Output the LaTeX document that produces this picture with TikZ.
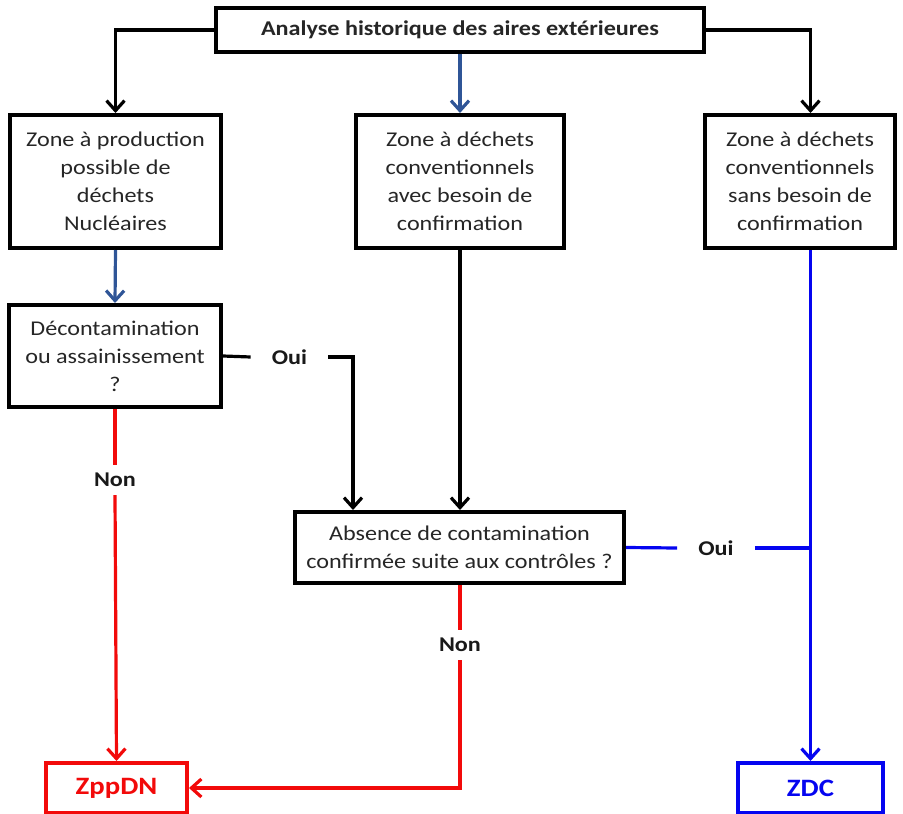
\documentclass[tikz,border=0pt]{standalone}
\usepackage{fontspec}
\setmainfont{Carlito}[FakeStretch=1.15]
\usepackage{tikz}
\usetikzlibrary{arrows.meta}

\definecolor{steel}{HTML}{2F5597}
\definecolor{vivblue}{HTML}{0505F0}
\definecolor{vivred}{HTML}{F20A0A}

\begin{document}
\begin{tikzpicture}[
    x=1pt, y=-1pt,
    font=\fontsize{21}{28}\selectfont,
    box/.style={rectangle, draw=black, line width=4pt, fill=white, align=center, inner sep=0pt, text=black!85},
    endbox/.style={rectangle, line width=4pt, fill=white, align=center, inner sep=0pt, minimum width=#1, minimum height=50pt, font=\fontsize{25}{28}\selectfont\bfseries},
    lbl/.style={inner xsep=21pt, inner ysep=8pt, font=\fontsize{21}{24}\selectfont\bfseries, text=black!90},
    conn/.style={line width=3.2pt},
    arr/.style={-{Straight Barb[length=10pt, width=18pt]}, line width=3.2pt}
]
    \useasboundingbox (0,0) rectangle (903,814);

    % boxes
    \node [box, minimum width=488pt, minimum height=44pt, font=\fontsize{21}{24}\selectfont\bfseries] (hist) at (460,30) {Analyse historique des aires extérieures};
    \node [box, minimum width=211pt, minimum height=133pt] (zprod) at (115.5,181.5) {Zone à production\\possible de\\déchets\\Nucléaires};
    \node [box, minimum width=208pt, minimum height=133pt] (zconf) at (460,181.5) {Zone à déchets\\conventionnels\\avec besoin de\\confirmation};
    \node [box, minimum width=190pt, minimum height=133pt] (zsans) at (800,181.5) {Zone à déchets\\conventionnels\\sans besoin de\\confirmation};
    \node [box, minimum width=212pt, minimum height=102pt] (decont) at (115,356) {Décontamination\\ou assainissement\\?};
    \node [box, minimum width=329pt, minimum height=71pt] (absence) at (459.5,547.5) {Absence de contamination\\confirmée suite aux contrôles ?};
    \node [endbox=141pt, draw=vivred, text=vivred] (zppdn) at (116.5,788) {ZppDN};
    \node [endbox=145pt, draw=vivblue, text=vivblue] (zdc) at (810.5,788) {ZDC};

    % answers
    \node [lbl] (oui1) at (289.5,357) {Oui};
    \node [lbl] (non1) at (115,480) {Non};
    \node [lbl] (non2) at (460,645) {Non};
    \node [lbl] (oui2) at (716,548) {Oui};

    % connectors
    \draw [arr] (hist.west) -| (zprod.north);
    \draw [arr, steel] (hist.south) -- (zconf.north);
    \draw [arr] (hist.east) -| (zdc |- zsans.north);
    \draw [arr, steel] (zprod.south) -- (decont.north);
    \draw [conn] (decont.east) -- (oui1.west);
    \draw [arr] (oui1.east) -| ([xshift=60pt]absence.north west);
    \draw [arr] (zconf.south) -- (zconf.south |- absence.north);
    \draw [conn, vivred] (decont.south) -- (non1.north);
    \draw [arr, vivred] (non1.south) -- (zppdn.north);
    \draw [conn, vivred] (absence.south -| non2) -- (non2.north);
    \draw [arr, vivred] (non2.south) |- (zppdn.east);
    \draw [conn, vivblue] (absence.east) -- (oui2.west);
    \draw [conn, vivblue] (oui2.east) -- (oui2.east -| zdc);
    \draw [arr, vivblue] (zdc |- zsans.south) -- (zdc.north);
\end{tikzpicture}
\end{document}
